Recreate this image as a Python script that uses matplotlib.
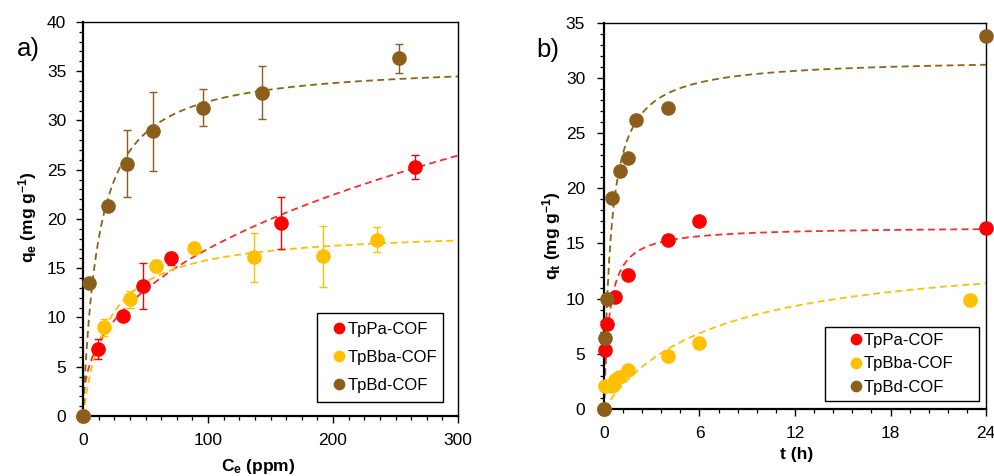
import numpy as np
import matplotlib
matplotlib.use("Agg")
import matplotlib.pyplot as plt
from matplotlib.ticker import MultipleLocator
from matplotlib.patches import Rectangle

# ---------------- data: panel a (isotherms) ----------------
Ce_Pa = [0, 12.3, 31.7, 47.7, 70.4, 158.4, 265.6]
qe_Pa = [0, 6.8, 10.2, 13.2, 16.0, 19.6, 25.3]
err_Pa = [0, 1.05, 0, 2.3, 0.65, 2.6, 1.2]

Ce_Bba = [0, 17.1, 37.6, 58.4, 89.0, 136.8, 191.7, 235.0]
qe_Bba = [0, 9.0, 11.85, 15.2, 17.1, 16.1, 16.2, 17.9]
err_Bba = [0, 0.85, 0.85, 0.6, 0, 2.5, 3.1, 1.25]

Ce_Bd = [0, 5.1, 20.2, 35.0, 56.3, 95.7, 143.2, 252.5]
qe_Bd = [0, 13.5, 21.35, 25.6, 28.9, 31.3, 32.8, 36.3]
err_Bd = [0, 0, 0, 3.4, 4.0, 1.9, 2.7, 1.5]

# fitted model parameters (panel a)
freund_Pa = (2.64, 0.404)      # Kf, 1/n
lang_Bba = (19.0, 0.05)        # qm, KL
lang_Bd = (35.9, 0.08)         # qm, KL

# ---------------- data: panel b (kinetics) ----------------
t_Pa = [0, 0.06, 0.21, 0.69, 1.5, 4.0, 6.0, 24.0]
qt_Pa = [0, 5.3, 7.7, 10.15, 12.15, 15.3, 17.05, 16.4]

t_Bba = [0, 0.06, 0.48, 0.69, 0.96, 1.53, 4.0, 6.0, 23.0]
qt_Bba = [0, 2.1, 2.1, 2.6, 2.9, 3.5, 4.8, 5.95, 9.9]

t_Bd = [0, 0.06, 0.17, 0.48, 1.0, 1.49, 1.99, 4.0, 24.0]
qt_Bd = [0, 6.4, 10.0, 19.1, 21.6, 22.75, 26.2, 27.3, 33.8]

# pseudo-second-order fit parameters (qe, k2)
pso_Pa = (16.52, 0.183)
pso_Bba = (14.6, 0.0101)
pso_Bd = (31.78, 0.0708)

labels = ["TpPa-COF", "TpBba-COF", "TpBd-COF"]
x_ticks_a = [0, 100, 200, 300]
x_ticks_b = [0, 6, 12, 18, 24]

# ---------------- styles ----------------
C_RED = "#FF0000"
C_YEL = "#FFC000"
C_BRN = "#8C5E1C"
L_RED = "#FF2A2A"
L_YEL = "#FFC000"
L_BRN = "#8B6414"

FONT = ["Liberation Sans", "DejaVu Sans"]
plt.rcParams["font.family"] = FONT
plt.rcParams["mathtext.fontset"] = "custom"
plt.rcParams["mathtext.rm"] = "Liberation Sans"
plt.rcParams["mathtext.bf"] = "Liberation Sans:bold"
plt.rcParams["mathtext.it"] = "Liberation Sans:italic"


def langmuir(c, p):
    qm, k = p
    return qm * k * c / (1 + k * c)


def freundlich(c, p):
    kf, ninv = p
    return kf * np.power(c, ninv)


def pso(t, p):
    qe, k = p
    return qe * qe * k * t / (1 + qe * k * t)


fig = plt.figure(figsize=(9.95, 4.76), dpi=100)
axa = fig.add_axes([0.0834, 0.126, 0.377, 0.828])
axb = fig.add_axes([0.607, 0.141, 0.384, 0.811])

dash = (0, (3.8, 2.4))


def style_axes(ax):
    for s in ["left", "bottom"]:
        ax.spines[s].set_linewidth(1.6)
    for s in ["top", "right"]:
        ax.spines[s].set_linewidth(1.0)
    ax.tick_params(which="major", direction="out", length=5, width=1.0,
                   labelsize=12.5, pad=7, top=False, right=False)
    ax.tick_params(which="minor", direction="out", length=3, width=0.9,
                   top=False, right=False)


def boxed_legend(ax, anchor, spacing, rect):
    leg = ax.legend(loc="center left", bbox_to_anchor=anchor, fontsize=12,
                    frameon=False, markerscale=0.78, handlelength=0.6,
                    handletextpad=0.2, labelspacing=spacing, borderpad=0,
                    borderaxespad=0)
    ax.add_patch(Rectangle(rect[:2], rect[2], rect[3], transform=ax.transAxes,
                           fill=True, facecolor="white", edgecolor="black",
                           lw=1.0, zorder=6))
    leg.set_zorder(7)
    return leg


# ---- panel a ----
cc = np.linspace(0, 300, 600)
axa.plot(cc, freundlich(cc, freund_Pa), color=L_RED, lw=1.3, ls=dash, zorder=2)
axa.plot(cc, langmuir(cc, lang_Bba), color=L_YEL, lw=1.3, ls=dash, zorder=2)
axa.plot(cc, langmuir(cc, lang_Bd), color=L_BRN, lw=1.3, ls=dash, zorder=2)

for x, y, e, c, lab in [(Ce_Pa, qe_Pa, err_Pa, C_RED, labels[0]),
                        (Ce_Bba, qe_Bba, err_Bba, C_YEL, labels[1]),
                        (Ce_Bd, qe_Bd, err_Bd, C_BRN, labels[2])]:
    ye = np.array(e, dtype=float)
    mask = ye > 0
    axa.errorbar(np.array(x)[mask], np.array(y)[mask], yerr=ye[mask], fmt="none",
                 ecolor=c, elinewidth=1.0, capsize=3.2, capthick=1.0, zorder=3)
    axa.plot(x, y, "o", color=c, ms=9.5, mec=c, label=lab, zorder=4, clip_on=False)

axa.set_xlim(0, 300)
axa.set_ylim(0, 40)
axa.set_xticks(x_ticks_a)
axa.xaxis.set_minor_locator(MultipleLocator(12.5))
axa.yaxis.set_major_locator(MultipleLocator(5))
axa.yaxis.set_minor_locator(MultipleLocator(1))
style_axes(axa)
axa.set_xlabel(r"$\mathbf{C_e}$ (ppm)", fontsize=12.5, fontweight="bold")
axa.xaxis.set_label_coords(0.467, -0.103)
axa.set_ylabel(r"$\mathbf{q_e}$ (mg g$^{\mathbf{-1}}$)", fontsize=12.5, fontweight="bold")
axa.yaxis.set_label_coords(-0.118, 0.505)
boxed_legend(axa, (0.669, 0.149), 0.79, (0.623, 0.0363, 0.3376, 0.2259))
fig.text(17 / 995, 1 - 49 / 476, "a)", fontsize=18.5, va="center", ha="left")

# ---- panel b ----
tt = np.linspace(0, 24, 800)
axb.plot(tt, pso(tt, pso_Pa), color=L_RED, lw=1.3, ls=dash, zorder=2)
axb.plot(tt, pso(tt, pso_Bba), color=L_YEL, lw=1.3, ls=dash, zorder=2)
axb.plot(tt, pso(tt, pso_Bd), color=L_BRN, lw=1.3, ls=dash, zorder=2)

axb.plot(t_Pa, qt_Pa, "o", color=C_RED, ms=9.5, label=labels[0], zorder=4, clip_on=False)
axb.plot(t_Bba, qt_Bba, "o", color=C_YEL, ms=9.5, label=labels[1], zorder=4, clip_on=False)
axb.plot(t_Bd, qt_Bd, "o", color=C_BRN, ms=9.5, label=labels[2], zorder=5, clip_on=False)

axb.set_xlim(0, 24)
axb.set_ylim(0, 35)
axb.set_xticks(x_ticks_b)
axb.xaxis.set_minor_locator(MultipleLocator(1.2))
axb.yaxis.set_major_locator(MultipleLocator(5))
axb.yaxis.set_minor_locator(MultipleLocator(1))
style_axes(axb)
axb.tick_params(axis="y", which="major", pad=8.5)
axb.set_xlabel("t (h)", fontsize=12.5, fontweight="bold")
axb.xaxis.set_label_coords(0.505, -0.098)
axb.set_ylabel(r"$\mathbf{q_t}$ (mg g$^{\mathbf{-1}}$)", fontsize=12.5, fontweight="bold")
axb.yaxis.set_label_coords(-0.107, 0.45)
boxed_legend(axb, (0.646, 0.1166), 0.52, (0.5785, 0.0215, 0.4039, 0.1917))
fig.text(536 / 995, 1 - 50 / 476, "b)", fontsize=18.5, va="center", ha="left")

fig.savefig("out.png", dpi=100)
